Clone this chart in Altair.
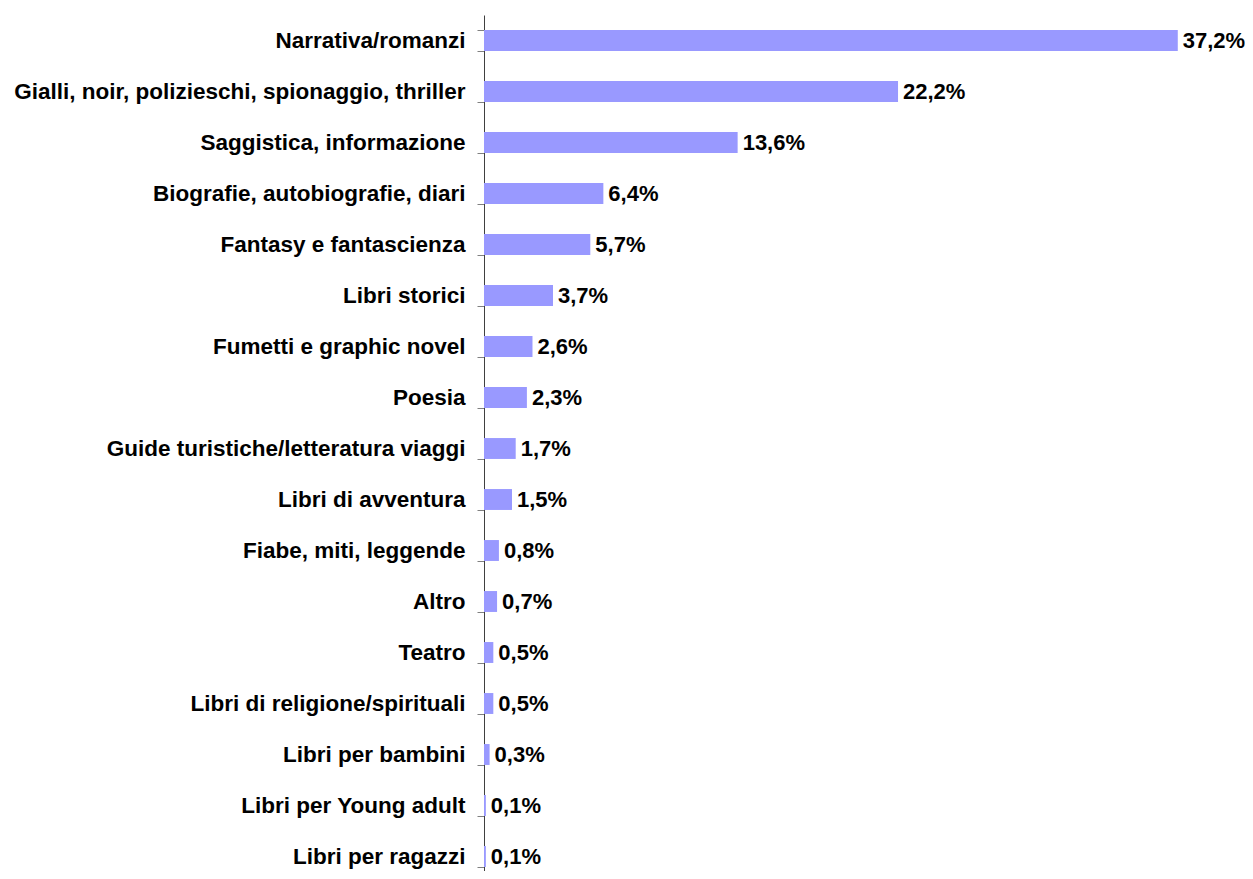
import altair as alt
import pandas as pd

categories = [
    "Narrativa/romanzi",
    "Gialli, noir, polizieschi, spionaggio, thriller",
    "Saggistica, informazione",
    "Biografie, autobiografie, diari",
    "Fantasy e fantascienza ",
    "Libri storici",
    "Fumetti e graphic novel ",
    "Poesia",
    "Guide turistiche/letteratura viaggi",
    "Libri di avventura",
    "Fiabe, miti, leggende",
    "Altro",
    "Teatro",
    "Libri di religione/spirituali",
    "Libri per bambini",
    "Libri per Young adult ",
    "Libri per ragazzi",
]
values = [37.2, 22.2, 13.6, 6.4, 5.7, 3.7, 2.6, 2.3, 1.7, 1.5, 0.8, 0.7, 0.5, 0.5, 0.3, 0.1, 0.1]

df = pd.DataFrame({"cat": categories, "val": values})
df["label"] = df["val"].map(lambda v: f"{v:.1f}".replace(".", ",") + "%")

W = 752
PX_PER = 18.65
XMAX = W / PX_PER
BAND_TOTAL = 51 * len(categories)
H = 856
FS = 22.5

y_enc = alt.Y(
    "cat:N",
    sort=categories,
    scale=alt.Scale(range=[0, BAND_TOTAL], paddingInner=0.59, paddingOuter=0.295),
    axis=alt.Axis(
        title=None,
        labelFont="Liberation Sans",
        labelFontWeight="bold",
        labelFontSize=FS,
        labelColor="black",
        labelPadding=12,
        tickSize=7,
        tickColor="#808080",
        tickBand="extent",
        domainColor="#404040",
        labelLimit=700,
    ),
)
x_enc = alt.X(
    "val:Q",
    scale=alt.Scale(domain=[0, XMAX], nice=False),
    axis=None,
)

bars = alt.Chart(df).mark_bar(color="#9999FF").encode(y=y_enc, x=x_enc)
text = alt.Chart(df).mark_text(
    align="left", baseline="middle", dx=5,
    font="Liberation Sans", fontWeight="bold", fontSize=22, color="black",
).encode(y=alt.Y("cat:N", sort=categories), x=alt.X("val:Q"), text="label:N")

chart = (
    alt.layer(bars, text)
    .properties(
        width=W,
        height=H,
        autosize=alt.AutoSizeParams(type="none"),
        padding={"left": 476, "top": 7, "right": 9, "bottom": 0},
    )
    .configure_view(stroke=None)
)

chart.save("out.html", embed_options={"renderer": "svg", "actions": False})
